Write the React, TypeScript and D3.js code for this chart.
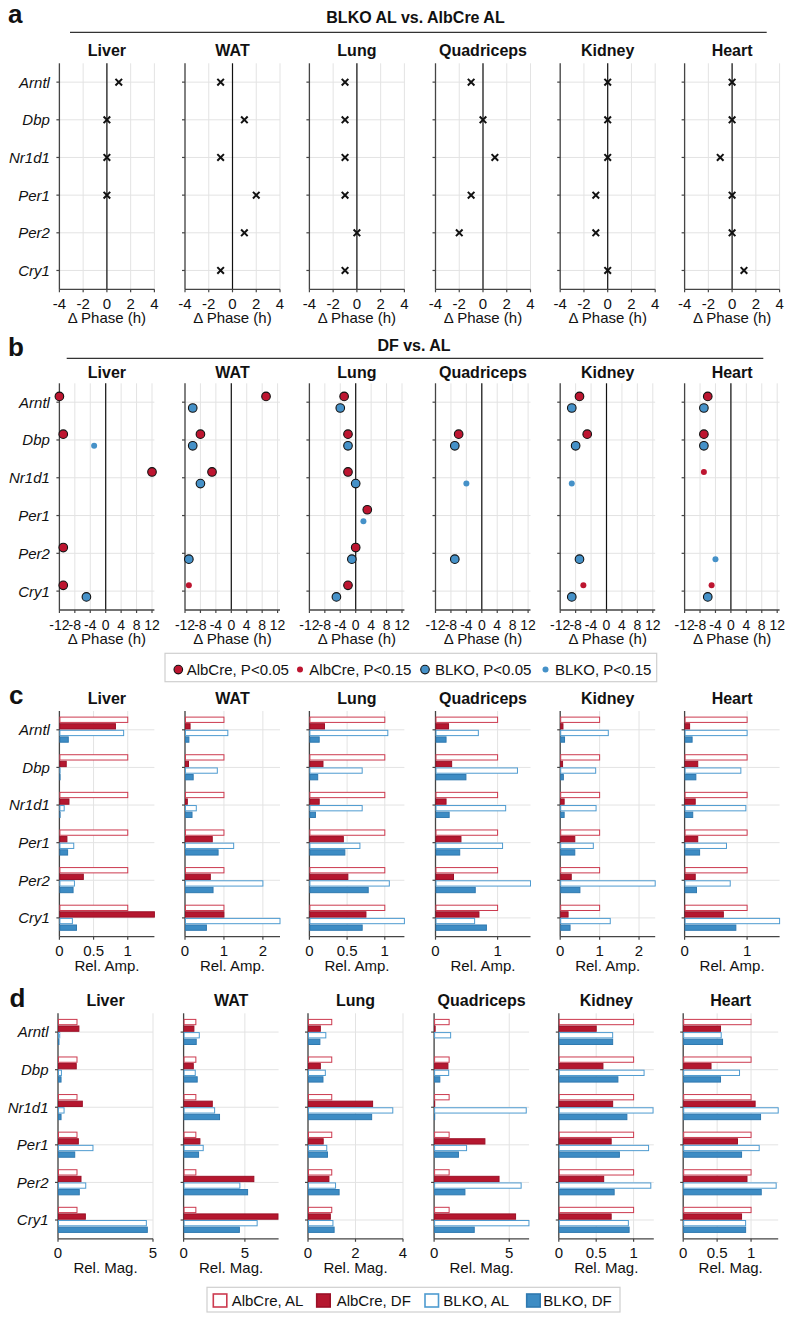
import React from "react";
import * as d3 from "d3";

const GENES = ["Arntl", "Dbp", "Nr1d1", "Per1", "Per2", "Cry1"];
const TISSUES = ["Liver", "WAT", "Lung", "Quadriceps", "Kidney", "Heart"];

// ---- panel a: BLKO AL vs AlbCre AL phase difference (h); null = not shown
const aLiver = [1, 0, 0, 0, null, null];
const aWAT = [-1, 1, -1, 2, 1, -1];
const aLung = [-1, -1, -1, -1, 0, -1];
const aQuad = [-1, 0, 1, -1, -2, null];
const aKidney = [0, 0, 0, -1, -1, 0];
const aHeart = [0, 0, -1, 0, 0, 1];
const A_PHASE = [aLiver, aWAT, aLung, aQuad, aKidney, aHeart];
const A_TICKS = [-4, -2, 0, 2, 4];

// ---- panel b: DF vs AL phase difference (h); sig 1 = P<0.05, 2 = P<0.15, 0 = none
// order of tissues: Liver, WAT, Lung, Quadriceps, Kidney, Heart
const bAlbPhase = [
  [-12, -11, 12, null, -11, -11],
  [9, -8, -5, null, null, -11],
  [-3, -2, -2, 3, 0, -2],
  [null, -6, null, null, null, null],
  [-7, -5, null, null, null, -6],
  [-6, -7, -7, null, null, -5],
];
const bAlbSig = [
  [1, 1, 1, 0, 1, 1],
  [1, 1, 1, 0, 0, 2],
  [1, 1, 1, 1, 1, 1],
  [0, 1, 0, 0, 0, 0],
  [1, 1, 0, 0, 0, 2],
  [1, 1, 2, 0, 0, 2],
];
const bKoPhase = [
  [null, -3, null, null, null, -5],
  [-10, -10, -8, null, -11, null],
  [-4, -2, 0, 2, -1, -5],
  [null, -7, -4, null, -7, null],
  [-9, -8, -9, null, -7, -9],
  [-7, -7, null, null, -4, -6],
];
const bKoSig = [
  [0, 2, 0, 0, 0, 1],
  [1, 1, 1, 0, 1, 0],
  [1, 1, 1, 2, 1, 1],
  [0, 1, 2, 0, 1, 0],
  [1, 1, 2, 0, 1, 1],
  [1, 1, 0, 0, 2, 1],
];
const B_TICKS = [-12, -8, -4, 0, 4, 8, 12];

// ---- panel c: relative amplitude
const cAlbAL = [
  [1, 1, 1, 1, 1, 1],
  [1, 1, 1, 1, 1, 1],
  [1, 1, 1, 1, 1, 1],
  [1, 1, 1, 1, 1, 1],
  [1, 1, 1, 1, 1, 1],
  [1, 1, 1, 1, 1, 1],
];
const cAlbDF = [
  [0.82, 0.1, 0.14, 0.11, 0.35, 1.39],
  [0.13, 0.09, 0.06, 0.7, 0.65, 1.0],
  [0.2, 0.18, 0.13, 0.45, 0.51, 0.75],
  [0.21, 0.26, 0.17, 0.41, 0.29, 0.7],
  [0.07, 0.06, 0.1, 0.37, 0.28, 0.2],
  [0.08, 0.21, 0.17, 0.21, 0.17, 0.62],
];
const cKoAL = [
  [0.94, 0.01, 0.07, 0.21, 0.22, 0.19],
  [1.1, 0.83, 0.29, 1.25, 2.0, 2.44],
  [1.04, 0.7, 0.7, 0.67, 1.06, 1.26],
  [0.69, 1.32, 1.13, 1.08, 1.53, 0.63],
  [1.22, 0.9, 0.91, 0.84, 2.41, 1.27],
  [1.0, 0.9, 0.98, 0.67, 0.73, 1.52],
];
const cKoDF = [
  [0.13, 0.01, 0.01, 0.12, 0.2, 0.25],
  [0.1, 0.21, 0.18, 0.85, 0.72, 0.55],
  [0.13, 0.11, 0.08, 0.47, 0.78, 0.7],
  [0.17, 0.49, 0.22, 0.39, 0.64, 0.82],
  [0.11, 0.08, 0.1, 0.37, 0.5, 0.25],
  [0.12, 0.18, 0.13, 0.24, 0.19, 0.82],
];
const C_MAX = [1.39, 2.44, 1.26, 1.53, 2.41, 1.52];
const C_TICKS = [[0, 0.5, 1], [0, 1, 2], [0, 0.5, 1], [0, 1], [0, 1, 2], [0, 1]];

// ---- panel d: relative magnitude
const dAlbAL = [
  [1, 1, 1, 1, 1, 1],
  [1, 1, 1, 1, 1, 1],
  [1, 1, 1, 1, 1, 1],
  [1, 1, 1, 1, 1, 1],
  [1, 1, 1, 1, 1, 1],
  [1, 1, 1, 1, 1, 1],
];
const dAlbDF = [
  [1.1, 0.96, 1.28, 1.07, 1.21, 1.44],
  [0.84, 0.79, 2.34, 1.33, 5.73, 7.7],
  [0.52, 0.52, 2.72, 0.64, 0.88, 0.94],
  [0.07, 0.92, 0.04, 3.38, 4.32, 5.42],
  [0.5, 0.59, 0.72, 0.7, 0.6, 0.7],
  [0.55, 0.41, 1.06, 0.8, 0.94, 0.86],
];
const dKoAL = [
  [0.09, 0.18, 0.32, 1.84, 1.46, 4.65],
  [1.28, 0.95, 2.53, 1.6, 4.59, 6.0],
  [0.75, 0.73, 3.57, 0.79, 1.16, 1.05],
  [1.1, 0.97, 6.13, 2.16, 5.79, 6.31],
  [0.72, 1.14, 1.26, 1.2, 1.23, 0.93],
  [0.56, 0.83, 1.4, 1.12, 1.37, 0.92],
];
const dKoDF = [
  [0.05, 0.16, 0.16, 0.88, 1.12, 4.7],
  [1.03, 1.11, 2.93, 1.22, 5.22, 4.55],
  [0.5, 0.63, 2.68, 0.82, 1.31, 1.1],
  [0.02, 0.38, 0.04, 1.62, 2.05, 2.67],
  [0.72, 0.79, 0.91, 0.81, 0.74, 0.94],
  [0.58, 0.55, 1.14, 0.86, 1.15, 0.92],
];
const D_MAX = [5, 7.75, 4, 6.32, 1.27, 1.4];
const D_TICKS = [[0, 5], [0, 5], [0, 2, 4], [0, 5], [0, 0.5, 1], [0, 0.5, 1]];

const BAR_SERIES = ["AlbCre, AL", "AlbCre, DF", "BLKO, AL", "BLKO, DF"];
const DOT_SERIES = ["AlbCre, P<0.05", "AlbCre, P<0.15", "BLKO, P<0.05", "BLKO, P<0.15"];

// ---- styling / layout
const FONT = "'Liberation Sans', Arial, Helvetica, sans-serif";
const RED = "#bd1530";
const BLUE = "#4591c8";
const RED_FILL = "#b5172f";
const RED_EDGE = "#9b1027";
const BLUE_FILL = "#3d8cc4";
const BLUE_EDGE = "#2f79b0";
const RED_LINE = "#cc3a4f";
const BLUE_LINE = "#4e9bd0";
const GRID = "#e3e3e3";
const AXIS = "#454545";
const LEFT = [59.4, 185, 309.4, 435.5, 560.2, 684.6];
const PW = 95;

const BAR_STYLE = [
  { fill: "#fff", stroke: RED_LINE },
  { fill: RED_FILL, stroke: RED_EDGE },
  { fill: "#fff", stroke: BLUE_LINE },
  { fill: BLUE_FILL, stroke: BLUE_EDGE },
];

type AxesProps = {
  x0: number;
  top: number;
  bottom: number;
  x: (v: number) => number;
  ticks: number[];
  tickSize: number;
  showY: boolean;
  title: string;
  titleY: number;
  xlabel: string;
  zero: boolean;
  children?: React.ReactNode;
};

function Axes(p: AxesProps) {
  const y = d3.scaleBand<string>().domain(GENES).range([p.top, p.bottom]);
  const yc = (g: string) => (y(g) as number) + y.bandwidth() / 2;
  const x1 = p.x0 + PW;
  return (
    <g>
      <text x={p.x0 + PW / 2} y={p.titleY} textAnchor="middle" fontSize={16} fontWeight="bold" fill="#111">
        {p.title}
      </text>
      {p.ticks.map((t) => (
        <line key={"vg" + t} x1={p.x(t)} x2={p.x(t)} y1={p.top} y2={p.bottom} stroke={GRID} strokeWidth={1} />
      ))}
      {GENES.map((g) => (
        <line key={"hg" + g} x1={p.x0} x2={x1} y1={yc(g)} y2={yc(g)} stroke={GRID} strokeWidth={1} />
      ))}
      {p.zero && <line x1={p.x(0)} x2={p.x(0)} y1={p.top} y2={p.bottom} stroke="#111" strokeWidth={1.2} />}
      <line x1={p.x0} x2={p.x0} y1={p.top} y2={p.bottom} stroke={AXIS} strokeWidth={1.3} />
      <line x1={p.x0} x2={x1} y1={p.bottom} y2={p.bottom} stroke={AXIS} strokeWidth={1.3} />
      {GENES.map((g) => (
        <line key={"yt" + g} x1={p.x0 - 3} x2={p.x0} y1={yc(g)} y2={yc(g)} stroke={AXIS} strokeWidth={1.2} />
      ))}
      {p.ticks.map((t) => (
        <line key={"xt" + t} x1={p.x(t)} x2={p.x(t)} y1={p.bottom} y2={p.bottom + 3} stroke={AXIS} strokeWidth={1.2} />
      ))}
      {p.ticks.map((t) => (
        <text key={"xl" + t} x={p.x(t)} y={p.bottom + 19.5} textAnchor="middle" fontSize={p.tickSize} fill="#111">
          {String(t)}
        </text>
      ))}
      <text x={p.x0 + PW / 2} y={p.bottom + 34} textAnchor="middle" fontSize={15} fill="#111">
        {p.xlabel}
      </text>
      {p.showY &&
        GENES.map((g) => (
          <text key={"yl" + g} x={p.x0 - 9.5} y={yc(g) + 5.4} textAnchor="end" fontSize={15} fontStyle="italic" fill="#111">
            {g}
          </text>
        ))}
      {p.children}
    </g>
  );
}

function rowCenter(top: number, bottom: number) {
  const y = d3.scaleBand<string>().domain(GENES).range([top, bottom]);
  return (g: string) => (y(g) as number) + y.bandwidth() / 2;
}

function PanelA() {
  const top = 63.3, bottom = 289.3;
  const yc = rowCenter(top, bottom);
  return (
    <g>
      {TISSUES.map((t, ti) => {
        const x0 = LEFT[ti];
        const x = d3.scaleLinear().domain([-4, 4]).range([x0, x0 + PW]);
        return (
          <Axes key={t} x0={x0} top={top} bottom={bottom} x={x} ticks={A_TICKS} tickSize={15} showY={ti === 0}
            title={t} titleY={56.4} xlabel="Δ Phase (h)" zero={true}>
            {A_PHASE[ti].map((v, gi) => {
              if (v === null) return null;
              const cx = x(v), cy = yc(GENES[gi]);
              const s = 3.3;
              return (
                <path key={gi} d={`M${cx - s},${cy - s}L${cx + s},${cy + s}M${cx - s},${cy + s}L${cx + s},${cy - s}`}
                  stroke="#111" strokeWidth={2} fill="none" />
              );
            })}
          </Axes>
        );
      })}
    </g>
  );
}

function Dot({ cx, cy, sig, color }: { cx: number; cy: number; sig: number; color: string }) {
  if (sig === 1) return <circle cx={cx} cy={cy} r={4.3} fill={color} stroke="#111" strokeWidth={1.1} />;
  return <circle cx={cx} cy={cy} r={3} fill={color} />;
}

function PanelB() {
  const top = 383.3, bottom = 610;
  const yc = rowCenter(top, bottom);
  return (
    <g>
      {TISSUES.map((t, ti) => {
        const x0 = LEFT[ti];
        const x = d3.scaleLinear().domain([-12, 12]).range([x0, x0 + 92.6]);
        return (
          <Axes key={t} x0={x0} top={top} bottom={bottom} x={x} ticks={B_TICKS} tickSize={14} showY={ti === 0}
            title={t} titleY={378.4} xlabel="Δ Phase (h)" zero={true}>
            {GENES.map((g, gi) => {
              const va = bAlbPhase[ti][gi];
              const vk = bKoPhase[ti][gi];
              return (
                <g key={g}>
                  {va !== null && bAlbSig[ti][gi] > 0 && (
                    <Dot cx={x(va)} cy={yc(g) - 5.8} sig={bAlbSig[ti][gi]} color={RED} />
                  )}
                  {vk !== null && bKoSig[ti][gi] > 0 && (
                    <Dot cx={x(vk)} cy={yc(g) + 5.8} sig={bKoSig[ti][gi]} color={BLUE} />
                  )}
                </g>
              );
            })}
          </Axes>
        );
      })}
    </g>
  );
}

function BarPanel({ top, bottom, titleY, xlabel, series, maxes, ticks, shift }: {
  top: number; bottom: number; titleY: number; xlabel: string;
  series: number[][][]; maxes: number[]; ticks: number[][]; shift: number;
}) {
  const yc = rowCenter(top, bottom);
  const slot = 6.6;
  return (
    <g>
      {TISSUES.map((t, ti) => {
        const x0 = LEFT[ti] + shift;
        const x = d3.scaleLinear().domain([0, maxes[ti]]).range([x0, x0 + PW]);
        return (
          <Axes key={t} x0={x0} top={top} bottom={bottom} x={x} ticks={ticks[ti]} tickSize={15} showY={ti === 0}
            title={t} titleY={titleY} xlabel={xlabel} zero={false}>
            {GENES.map((g, gi) => (
              <g key={g}>
                {series.map((s, si) => {
                  const v = s[ti][gi];
                  const w = Math.max(0, x(v) - x0 - 0.5);
                  return (
                    <rect key={si} x={x0 + 0.5} y={yc(g) - 2 * slot + si * slot + 0.5} width={w} height={slot - 1.3}
                      fill={BAR_STYLE[si].fill} stroke={BAR_STYLE[si].stroke} strokeWidth={1} />
                  );
                })}
              </g>
            ))}
          </Axes>
        );
      })}
    </g>
  );
}

function LegendB() {
  const cy = 669.6;
  const items = [
    { cx: 178.3, tx: 186.7, sig: 1, color: RED },
    { cx: 300, tx: 309.3, sig: 2, color: RED },
    { cx: 425, tx: 435, sig: 1, color: BLUE },
    { cx: 545.5, tx: 555, sig: 2, color: BLUE },
  ];
  return (
    <g>
      <rect x={165} y={653.3} width={491.7} height={28.4} fill="#fff" stroke="#cfcfcf" strokeWidth={1.2} />
      {items.map((it, i) => (
        <g key={i}>
          <Dot cx={it.cx} cy={cy} sig={it.sig} color={it.color} />
          <text x={it.tx} y={cy + 5.4} fontSize={15} fill="#111">{DOT_SERIES[i]}</text>
        </g>
      ))}
    </g>
  );
}

function LegendD() {
  const xs = [213.3, 316.7, 425, 526.7];
  const txs = [231.7, 336.7, 443.3, 543.3];
  return (
    <g>
      <rect x={207} y={1287.3} width={413} height={24.7} fill="#fff" stroke="#cfcfcf" strokeWidth={1.2} />
      {BAR_SERIES.map((s, i) => (
        <g key={s}>
          <rect x={xs[i]} y={1294} width={13.5} height={13} fill={BAR_STYLE[i].fill}
            stroke={BAR_STYLE[i].stroke} strokeWidth={1.6} />
          <text x={txs[i]} y={1305.6} fontSize={15} fill="#111">{s}</text>
        </g>
      ))}
    </g>
  );
}

export default function App() {
  return (
    <svg width={800} height={1321} viewBox="0 0 800 1321"
      style={{ position: "absolute", left: 0, top: 0, display: "block", background: "#fff" }}
      fontFamily={FONT}>
      <rect x={0} y={0} width={800} height={1321} fill="#fff" />
      {/* panel letters */}
      <text x={8} y={23.4} fontSize={26} fontWeight="bold" fill="#111">a</text>
      <text x={8} y={356} fontSize={26} fontWeight="bold" fill="#111">b</text>
      <text x={9} y={704} fontSize={26} fontWeight="bold" fill="#111">c</text>
      <text x={9.5} y={1007.3} fontSize={26} fontWeight="bold" fill="#111">d</text>
      {/* section titles */}
      <text x={415.5} y={23.4} textAnchor="middle" fontSize={16} fontWeight="bold" fill="#111">BLKO AL vs. AlbCre AL</text>
      <line x1={70} x2={766.7} y1={32.3} y2={32.3} stroke="#333" strokeWidth={1.3} />
      <text x={414} y={351.3} textAnchor="middle" fontSize={16} fontWeight="bold" fill="#111">DF vs. AL</text>
      <line x1={66.7} x2={763.3} y1={358.3} y2={358.3} stroke="#333" strokeWidth={1.3} />

      <PanelA />
      <PanelB />
      <LegendB />
      <BarPanel top={711} bottom={936.7} titleY={704} xlabel="Rel. Amp."
        series={[cAlbAL, cAlbDF, cKoAL, cKoDF]} maxes={C_MAX} ticks={C_TICKS} shift={0} />
      <BarPanel top={1013.3} bottom={1238.8} titleY={1005.7} xlabel="Rel. Mag."
        series={[dAlbAL, dAlbDF, dKoAL, dKoDF]} maxes={D_MAX} ticks={D_TICKS} shift={-1.4} />
      <LegendD />
    </svg>
  );
}
